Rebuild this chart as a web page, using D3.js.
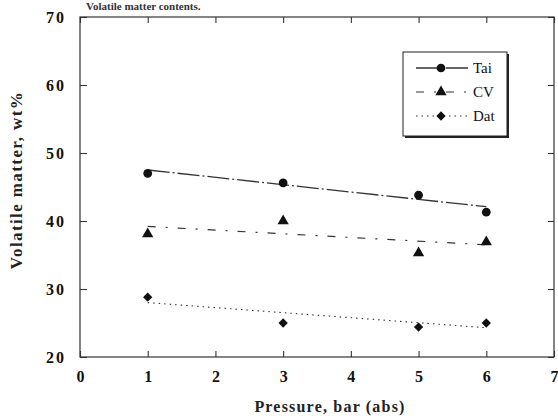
<!DOCTYPE html>
<html><head><meta charset="utf-8">
<script src="https://cdn.jsdelivr.net/npm/d3@7"></script>
<style>body{margin:0;background:#fff}svg{display:block}</style>
</head><body>
<script>
const pressure = [1, 3, 5, 6];
const tai = [47.0, 45.6, 43.8, 41.3];
const cv  = [38.1, 40.0, 35.3, 36.9];
const dat = [28.8, 25.0, 24.4, 25.0];
const taiFit = [[1, 47.5], [6, 42.1]];
const cvFit  = [[1, 39.2], [6, 36.5]];
const datFit = [[1, 28.0], [6, 24.3]];
const xTicks = [0, 1, 2, 3, 4, 5, 6, 7];
const yTicks = [20, 30, 40, 50, 60, 70];
const seriesNames = ["Tai", "CV", "Dat"];

const W = 558, H = 418;
const svg = d3.select("body").append("svg").attr("width", W).attr("height", H);
const L = 80, R = 554, T = 17, B = 357;
const x = d3.scaleLinear().domain([0, 7]).range([L, R]);
const y = d3.scaleLinear().domain([20, 70]).range([B, T]);
const ink = "#111";
const font = "'Liberation Serif','DejaVu Serif',serif";

// title at top (small, fully visible)
svg.append("text").attr("x", 86).attr("y", 10).attr("font-family", font)
  .attr("font-size", 11).attr("font-weight", "bold").attr("fill", "#333")
  .text("Volatile matter contents.");

// frame
svg.append("rect").attr("x", L).attr("y", T).attr("width", R - L).attr("height", B - T)
  .attr("fill", "none").attr("stroke", "#333").attr("stroke-width", 1.2);

// axes with inward ticks
const gB = svg.append("g").attr("transform", `translate(0,${B})`)
  .call(d3.axisBottom(x).tickValues(xTicks).tickSize(-6).tickPadding(14).tickFormat(d3.format("d")));
const gT = svg.append("g").attr("transform", `translate(0,${T})`)
  .call(d3.axisTop(x).tickValues(xTicks).tickSize(-6).tickFormat(""));
const gL = svg.append("g").attr("transform", `translate(${L},0)`)
  .call(d3.axisLeft(y).tickValues(yTicks).tickSize(-7).tickPadding(14).tickFormat(d3.format("d")));
const gR = svg.append("g").attr("transform", `translate(${R},0)`)
  .call(d3.axisRight(y).tickValues(yTicks).tickSize(-6).tickFormat(""));
[gB, gT, gL, gR].forEach(g => {
  g.select(".domain").remove();
  g.selectAll("line").attr("stroke", "#333").attr("stroke-width", 1.1);
  g.selectAll("text").attr("font-family", font).attr("font-size", 16)
    .attr("font-weight", "bold").attr("fill", ink);
});
gL.selectAll("text").attr("letter-spacing", 2);

// axis titles
svg.append("text").attr("x", 330).attr("y", 412).attr("text-anchor", "middle")
  .attr("font-family", font).attr("font-size", 16).attr("font-weight", "bold")
  .attr("letter-spacing", 1.2).attr("fill", "#222")
  .text("Pressure,  bar  (abs)");
svg.append("text").attr("transform", `translate(22,180) rotate(-90)`)
  .attr("text-anchor", "middle").attr("font-family", font).attr("font-size", 17)
  .attr("font-weight", "bold").attr("letter-spacing", 1.4).attr("fill", "#222")
  .text("Volatile matter, wt%");

// fit lines
const line = d3.line().x(d => x(d[0])).y(d => y(d[1]));
const styles = [
  {fit: taiFit, dash: "22,3,2,3", w: 1.3},
  {fit: cvFit, dash: "8,10,2,10", w: 1.2},
  {fit: datFit, dash: "1.5,4", w: 1.1}
];
styles.forEach(s => {
  svg.append("path").attr("d", line(s.fit)).attr("fill", "none")
    .attr("stroke", "#333").attr("stroke-width", s.w).attr("stroke-dasharray", s.dash);
});

// markers
const symCircle = d3.symbol().type(d3.symbolCircle).size(60);
const symTri = d3.symbol().type(d3.symbolTriangle).size(55);
const symDia = d3.symbol().type(d3.symbolDiamond2).size(55);
function drawPts(vals, sym) {
  svg.append("g").selectAll("path").data(pressure.map((p, i) => [p, vals[i]])).join("path")
    .attr("transform", d => `translate(${x(d[0])},${y(d[1])})`)
    .attr("d", sym).attr("fill", ink);
}
drawPts(tai, symCircle);
drawPts(cv, symTri);
drawPts(dat, symDia);

// legend
const lx = 403, ly = 52, lw = 104, lh = 84;
svg.append("rect").attr("x", lx + 2).attr("y", ly + 2).attr("width", lw).attr("height", lh).attr("fill", "#222");
svg.append("rect").attr("x", lx).attr("y", ly).attr("width", lw).attr("height", lh)
  .attr("fill", "#fff").attr("stroke", "#222").attr("stroke-width", 1);
const syms = [symCircle, symTri, symDia];
seriesNames.forEach((n, i) => {
  const yy = ly + 16 + i * 24;
  svg.append("line").attr("x1", lx + 13).attr("x2", lx + 66).attr("y1", yy).attr("y2", yy)
    .attr("stroke", "#333").attr("stroke-width", styles[i].w).attr("stroke-dasharray", styles[i].dash);
  svg.append("path").attr("transform", `translate(${lx + 38},${yy})`).attr("d", syms[i]).attr("fill", ink);
  svg.append("text").attr("x", lx + 70).attr("y", yy + 5).attr("font-family", font)
    .attr("font-size", 15).attr("fill", ink).text(n);
});
</script>
</body></html>
